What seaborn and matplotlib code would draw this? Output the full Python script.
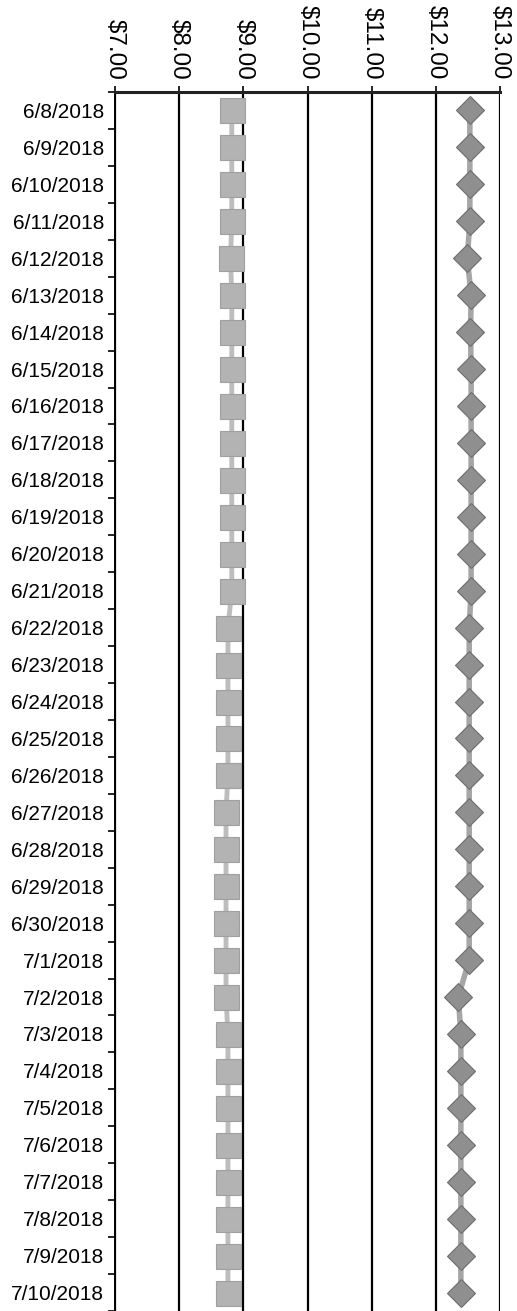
import matplotlib
matplotlib.use("Agg")
import matplotlib.pyplot as plt
import matplotlib.ticker as mticker
import numpy as np
import pandas as pd
import seaborn as sns

# -----------------------------
# Data
# -----------------------------
dates = [
    "6/8/2018", "6/9/2018", "6/10/2018", "6/11/2018", "6/12/2018",
    "6/13/2018", "6/14/2018", "6/15/2018", "6/16/2018", "6/17/2018",
    "6/18/2018", "6/19/2018", "6/20/2018", "6/21/2018", "6/22/2018",
    "6/23/2018", "6/24/2018", "6/25/2018", "6/26/2018", "6/27/2018",
    "6/28/2018", "6/29/2018", "6/30/2018", "7/1/2018", "7/2/2018",
    "7/3/2018", "7/4/2018", "7/5/2018", "7/6/2018", "7/7/2018",
    "7/8/2018", "7/9/2018", "7/10/2018",
]

low_price = [
    8.82, 8.82, 8.82, 8.82, 8.80, 8.82, 8.82, 8.82, 8.82, 8.82,
    8.82, 8.82, 8.82, 8.82, 8.76, 8.76, 8.76, 8.76, 8.76, 8.73,
    8.73, 8.73, 8.73, 8.73, 8.73, 8.76, 8.76, 8.76, 8.76, 8.76,
    8.76, 8.76, 8.76,
]

high_price = [
    12.53, 12.53, 12.53, 12.53, 12.49, 12.55, 12.54, 12.55, 12.55, 12.55,
    12.55, 12.55, 12.55, 12.55, 12.52, 12.52, 12.52, 12.52, 12.52, 12.52,
    12.52, 12.52, 12.52, 12.52, 12.35, 12.39, 12.39, 12.39, 12.39, 12.39,
    12.39, 12.39, 12.39,
]

price_ticks = [7, 8, 9, 10, 11, 12, 13]

df = pd.DataFrame({
    "date": dates,
    "row": np.arange(len(dates)),
    "low": low_price,
    "high": high_price,
})

sns.set_style("white")
plt.rcParams["font.family"] = ["Liberation Sans", "DejaVu Sans"]

fig = plt.figure(figsize=(5.17, 13.11), dpi=100)
ax = fig.add_axes([115 / 517, 0.0, 385 / 517, 1 - 92 / 1311])

# -----------------------------
# Series
# -----------------------------
sns.lineplot(
    data=df, x="low", y="row", sort=False, estimator=None, ax=ax,
    color="#bdbdbd", linewidth=3.5, marker="s", markersize=18,
    markerfacecolor="#b3b3b3", markeredgecolor="#a0a0a0", markeredgewidth=0.8,
)

sns.lineplot(
    data=df, x="high", y="row", sort=False, estimator=None, ax=ax,
    color="#a6a6a6", linewidth=4, marker="D", markersize=14,
    markerfacecolor="#8f8f8f", markeredgecolor="#6e6e6e", markeredgewidth=0.8,
)

# -----------------------------
# Axes
# -----------------------------
ax.set_xlim(7, 13)
ax.set_ylim(len(dates) - 0.5, -0.5)

ax.xaxis.tick_top()
ax.set_xticks(price_ticks)
ax.set_xticklabels([f"${v:.2f}" for v in price_ticks], rotation=-90,
                   fontsize=17.5, va="bottom", ha="center")
ax.tick_params(axis="x", direction="out", length=4, width=1.2, pad=5,
               colors="black", top=True, bottom=False)

ax.set_yticks(df["row"])
ax.set_yticklabels(dates, fontsize=15)
ax.yaxis.set_minor_locator(mticker.FixedLocator(np.arange(-0.5, len(dates), 1)))
ax.tick_params(axis="y", which="major", length=0, pad=8, colors="black")
ax.tick_params(axis="y", which="minor", direction="out", length=5, width=1.2,
               left=True, colors="black")

for v in price_ticks:
    ax.axvline(v, color="black", linewidth=1.6, zorder=0.5)

for side in ["bottom", "right"]:
    ax.spines[side].set_visible(False)
ax.spines["top"].set_linewidth(2.2)
ax.spines["top"].set_color("#222222")
ax.spines["left"].set_linewidth(1.4)
ax.spines["left"].set_color("black")

ax.set_xlabel("")
ax.set_ylabel("")

fig.savefig("out.png", dpi=100)
